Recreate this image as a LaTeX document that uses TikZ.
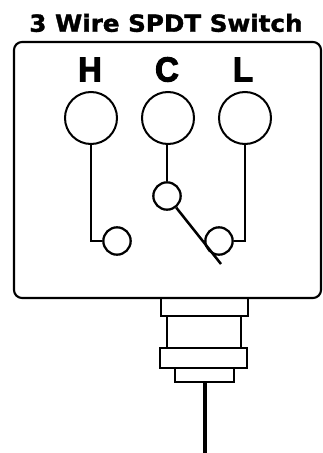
\documentclass[tikz,border=0pt]{standalone}
\usepackage{fontspec}
\setmainfont{Liberation Sans}
\newfontfamily\titlefont[FakeBold=1.5,FakeStretch=1.05]{DejaVu Sans Bold}
\newfontfamily\letterfont[FakeBold=3,FakeStretch=0.95]{Liberation Sans Bold}
\tikzset{
  px/.style={x=0.75pt,y=-0.75pt},
  thick line/.style={line width=1.6pt,black},
  thin line/.style={line width=1.2pt,black},
  big term/.style={circle,draw,line width=1.5pt,minimum size=39pt,inner sep=0pt},
  small term/.style={circle,draw,line width=1.7pt,minimum size=20.5pt,inner sep=0pt},
  letter/.style={font=\letterfont\fontsize{26}{26}\selectfont,inner sep=0pt,text=black},
}
\begin{document}
\begin{tikzpicture}[px]
\useasboundingbox (0,0) rectangle (323,453);
\node[font=\titlefont\fontsize{17.6}{20}\selectfont,inner sep=0pt] (title) at (166,23) {3 Wire SPDT Switch};
\draw[thick line,rounded corners=6pt] (14,42) rectangle (321,298);
\node[letter] (H) at (90,69.5) {H};
\node[letter] (C) at (167,69.5) {C};
\node[letter] (L) at (243,69.5) {L};
\node[big term] (h1) at (91,118) {};
\node[big term] (c1) at (168,118) {};
\node[big term] (l1) at (245,118) {};
\node[small term] (h2) at (117,241) {};
\node[small term] (c2) at (167,196) {};
\node[small term] (l2) at (219,241) {};
\coordinate (hc) at (91,241);
\coordinate (lc) at (245,241);
\coordinate (leverend) at (221,264);
\draw[thin line] (h1) -- (hc) -- (h2);
\draw[thin line] (c2 |- c1.south) -- (c2);
\draw[thin line] (l1) -- (lc) -- (l2);
\draw[line width=1.9pt] (c2) -- (leverend);
\draw[thick line] (161,298) -- (161,316) -- (248,316) -- (248,298);
\draw[thick line] (167,316) -- (167,348);
\draw[thick line] (241,316) -- (241,348);
\draw[thick line] (160,348) rectangle (247,368);
\draw[thick line] (175,368) -- (175,382) -- (234,382) -- (234,368);
\coordinate (wiretop) at (205,382);
\coordinate (wireend) at (205,453);
\draw[line width=3.6pt] (wiretop) -- (wireend);
\end{tikzpicture}
\end{document}
